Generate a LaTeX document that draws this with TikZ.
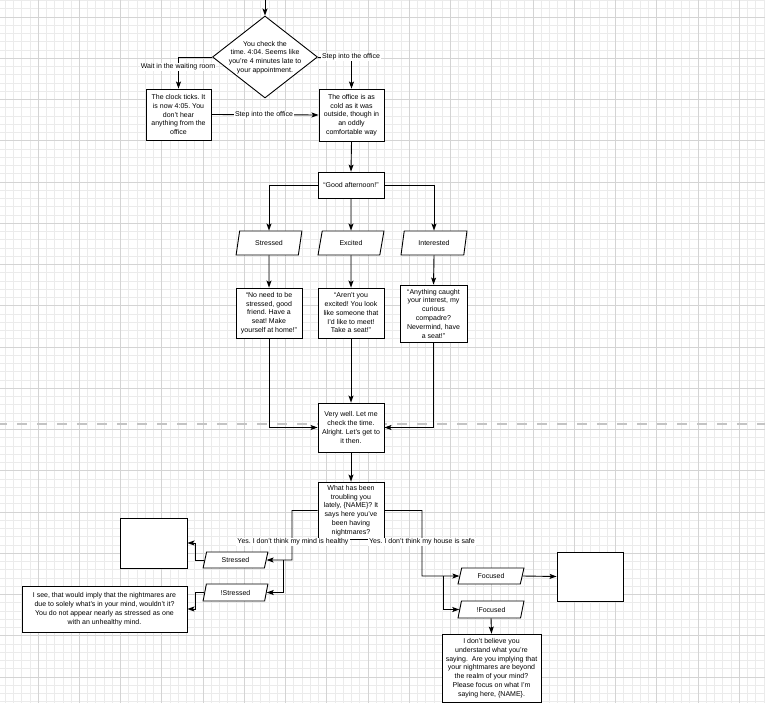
\documentclass[tikz,border=0pt]{standalone}
\usepackage{fontspec}
\setmainfont{Liberation Sans}
\usetikzlibrary{shapes.geometric,arrows.meta}
\definecolor{gridminor}{HTML}{EBEBEB}
\definecolor{gridmajor}{HTML}{D4D4D4}
\definecolor{pagebreak}{HTML}{C4C4C4}
\frenchspacing
\begin{document}
\begin{tikzpicture}[x=1pt,y=-1pt,
  font=\fontsize{7}{8.8}\selectfont,
  box/.style={draw, line width=0.9pt, fill=white, align=center, inner sep=0pt},
  para/.style={trapezium, trapezium left angle=72, trapezium right angle=108,
    trapezium stretches=true, draw, fill=white, line width=0.9pt, inner sep=0pt},
  lbl/.style={fill=white, inner sep=1pt},
  conn/.style={line width=0.9pt, -{Stealth[length=7pt,width=5pt,inset=1.5pt]}},
  wire/.style={line width=0.9pt}]
\useasboundingbox (0,0) rectangle (765,703);
\fill[white] (0,0) rectangle (765,703);
% grid
\foreach \i in {0,...,93} \draw[gridminor, line width=0.55pt] ({5.04+\i*8.248},0) -- ({5.04+\i*8.248},703);
\foreach \i in {0,...,86} \draw[gridminor, line width=0.55pt] (0,{0.5+\i*8.248}) -- (765,{0.5+\i*8.248});
\foreach \i in {0,...,18} \draw[gridmajor, line width=0.65pt] ({38+\i*41.24},0) -- ({38+\i*41.24},703);
\draw[gridmajor, line width=0.65pt] (-3.24,0) -- (-3.24,703);
\foreach \i in {0,...,16} \draw[gridmajor, line width=0.65pt] (0,{17+\i*41.24}) -- (765,{17+\i*41.24});
% page break line
\draw[pagebreak, line width=1.8pt, dash pattern=on 10pt off 10pt] (-3,424) -- (770,424);

% nodes
\coordinate (top) at (265,-1);
\node[diamond, draw, line width=0.9pt, fill=white, minimum width=105, minimum height=82, inner sep=0pt] (dia) at (265,57) {};
\node[align=center, inner sep=0pt] (diat) at (265,57.5) {You check the\\time. 4:04. Seems like\\you're 4 minutes late to\\your appointment.};
\node[box, minimum width=65, minimum height=51] (clock) at (178.5,114.5) {The clock ticks. It\\is now 4:05. You\\don't hear\\anything from the\\office};
\node[box, minimum width=65, minimum height=52] (office) at (351.5,115) {The office is as\\cold as it was\\outside, though in\\an oddly\\comfortable way};
\node[box, minimum width=66, minimum height=26] (good) at (351,185) {“Good afternoon!”};
\node[para, minimum width=66, minimum height=24] (p1) at (269,243) {Stressed};
\node[para, minimum width=66, minimum height=24] (p2) at (351,243) {Excited};
\node[para, minimum width=66, minimum height=24] (p3) at (434,243) {Interested};
\node[box, minimum width=66, minimum height=50] (b1) at (269,313) {“No need to be\\stressed, good\\friend. Have a\\seat! Make\\yourself at home!”};
\node[box, minimum width=66, minimum height=50] (b2) at (351,313) {“Aren't you\\excited! You look\\like someone that\\I'd like to meet!\\Take a seat!”};
\node[box, minimum width=67, minimum height=57] (b3) at (433.5,313.5) {“Anything caught\\your interest, my\\curious\\compadre?\\Nevermind, have\\a seat!”};
\node[box, minimum width=66, minimum height=49] (well) at (351,427.5) {Very well. Let me\\check the time.\\Alright. Let's get to\\it then.};
\node[box, minimum width=66, minimum height=57] (what) at (351,510.5) {What has been\\troubling you\\lately, \{NAME\}? It\\says here you've\\been having\\nightmares?};
\node[para, minimum width=65, minimum height=16] (ps) at (235.5,560) {Stressed};
\node[para, minimum width=65, minimum height=17] (pns) at (235.5,592.5) {!Stressed};
\node[box, minimum width=67, minimum height=50] (empty1) at (153.5,543) {};
\node[box, minimum width=165, minimum height=46] (isee) at (104.5,609) {I see, that would imply that the nightmares are\\due to solely what's in your mind, wouldn't it?\\You do not appear nearly as stressed as one\\with an unhealthy mind.};
\node[para, minimum width=66, minimum height=16] (pf) at (491,576) {Focused};
\node[para, minimum width=66, minimum height=17] (pnf) at (491,609.5) {!Focused};
\node[box, minimum width=66, minimum height=49] (empty2) at (590,576.5) {};
\node[box, minimum width=99, minimum height=68] (dont) at (491.5,668) {I don't believe you\\understand what you're\\saying.\ \ Are you implying that\\your nightmares are beyond\\the realm of your mind?\\Please focus on what I'm\\saying here, \{NAME\}.};

% connectors
\draw[conn] (top) -- (dia.north);
\draw[conn] (dia.west) -| (clock.north);
\draw[conn] (dia.east) -| (office.north);
\draw[conn] (clock.east) -- (office.west);
\draw[conn] (office.south) -- (good.north);
\draw[conn] (good.west) -| (p1.north);
\draw[conn] (good.south) -- (p2.north);
\draw[conn] (good.east) -| (p3.north);
\draw[conn] (p1.south) -- (b1.north);
\draw[conn] (p2.south) -- (b2.north);
\draw[conn] (p3.south) -- (b3.north);
\draw[conn] (b1.south) |- (well.west);
\draw[conn] (b2.south) -- (well.north);
\draw[conn] (b3.south) |- (well.east);
\draw[conn] (well.south) -- (what.north);
\coordinate (brl) at (292,560);
\coordinate (brl2) at (283,560);
\draw[conn] (what.west) -| (brl) -- (ps.east);
\draw[conn] (brl2) |- (pns.east);
\coordinate (brr) at (422,576);
\coordinate (brr2) at (443,576);
\draw[conn] (what.east) -| (brr) -- (pf.west);
\draw[conn] (brr2) |- (pnf.west);
\draw[conn] (ps.west) -- ++(-9,0) |- (empty1.east);
\draw[conn] (pns.west) -- ++(-9,0) |- (isee.east);
\draw[conn] (pf.east) -- (empty2.west);
\draw[conn] (pnf.south) -- (dont.north);

% labels
\node[lbl] (l1) at (178,67) {Wait in the waiting room};
\node[lbl] (l2) at (351,57) {Step into the office};
\node[lbl] (l3) at (264,115) {Step into the office};
\node[lbl] (l4) at (293,542) {Yes. I don't think my mind is healthy};
\node[lbl] (l5) at (422,542) {Yes. I don't think my house is safe};
\end{tikzpicture}
\end{document}
